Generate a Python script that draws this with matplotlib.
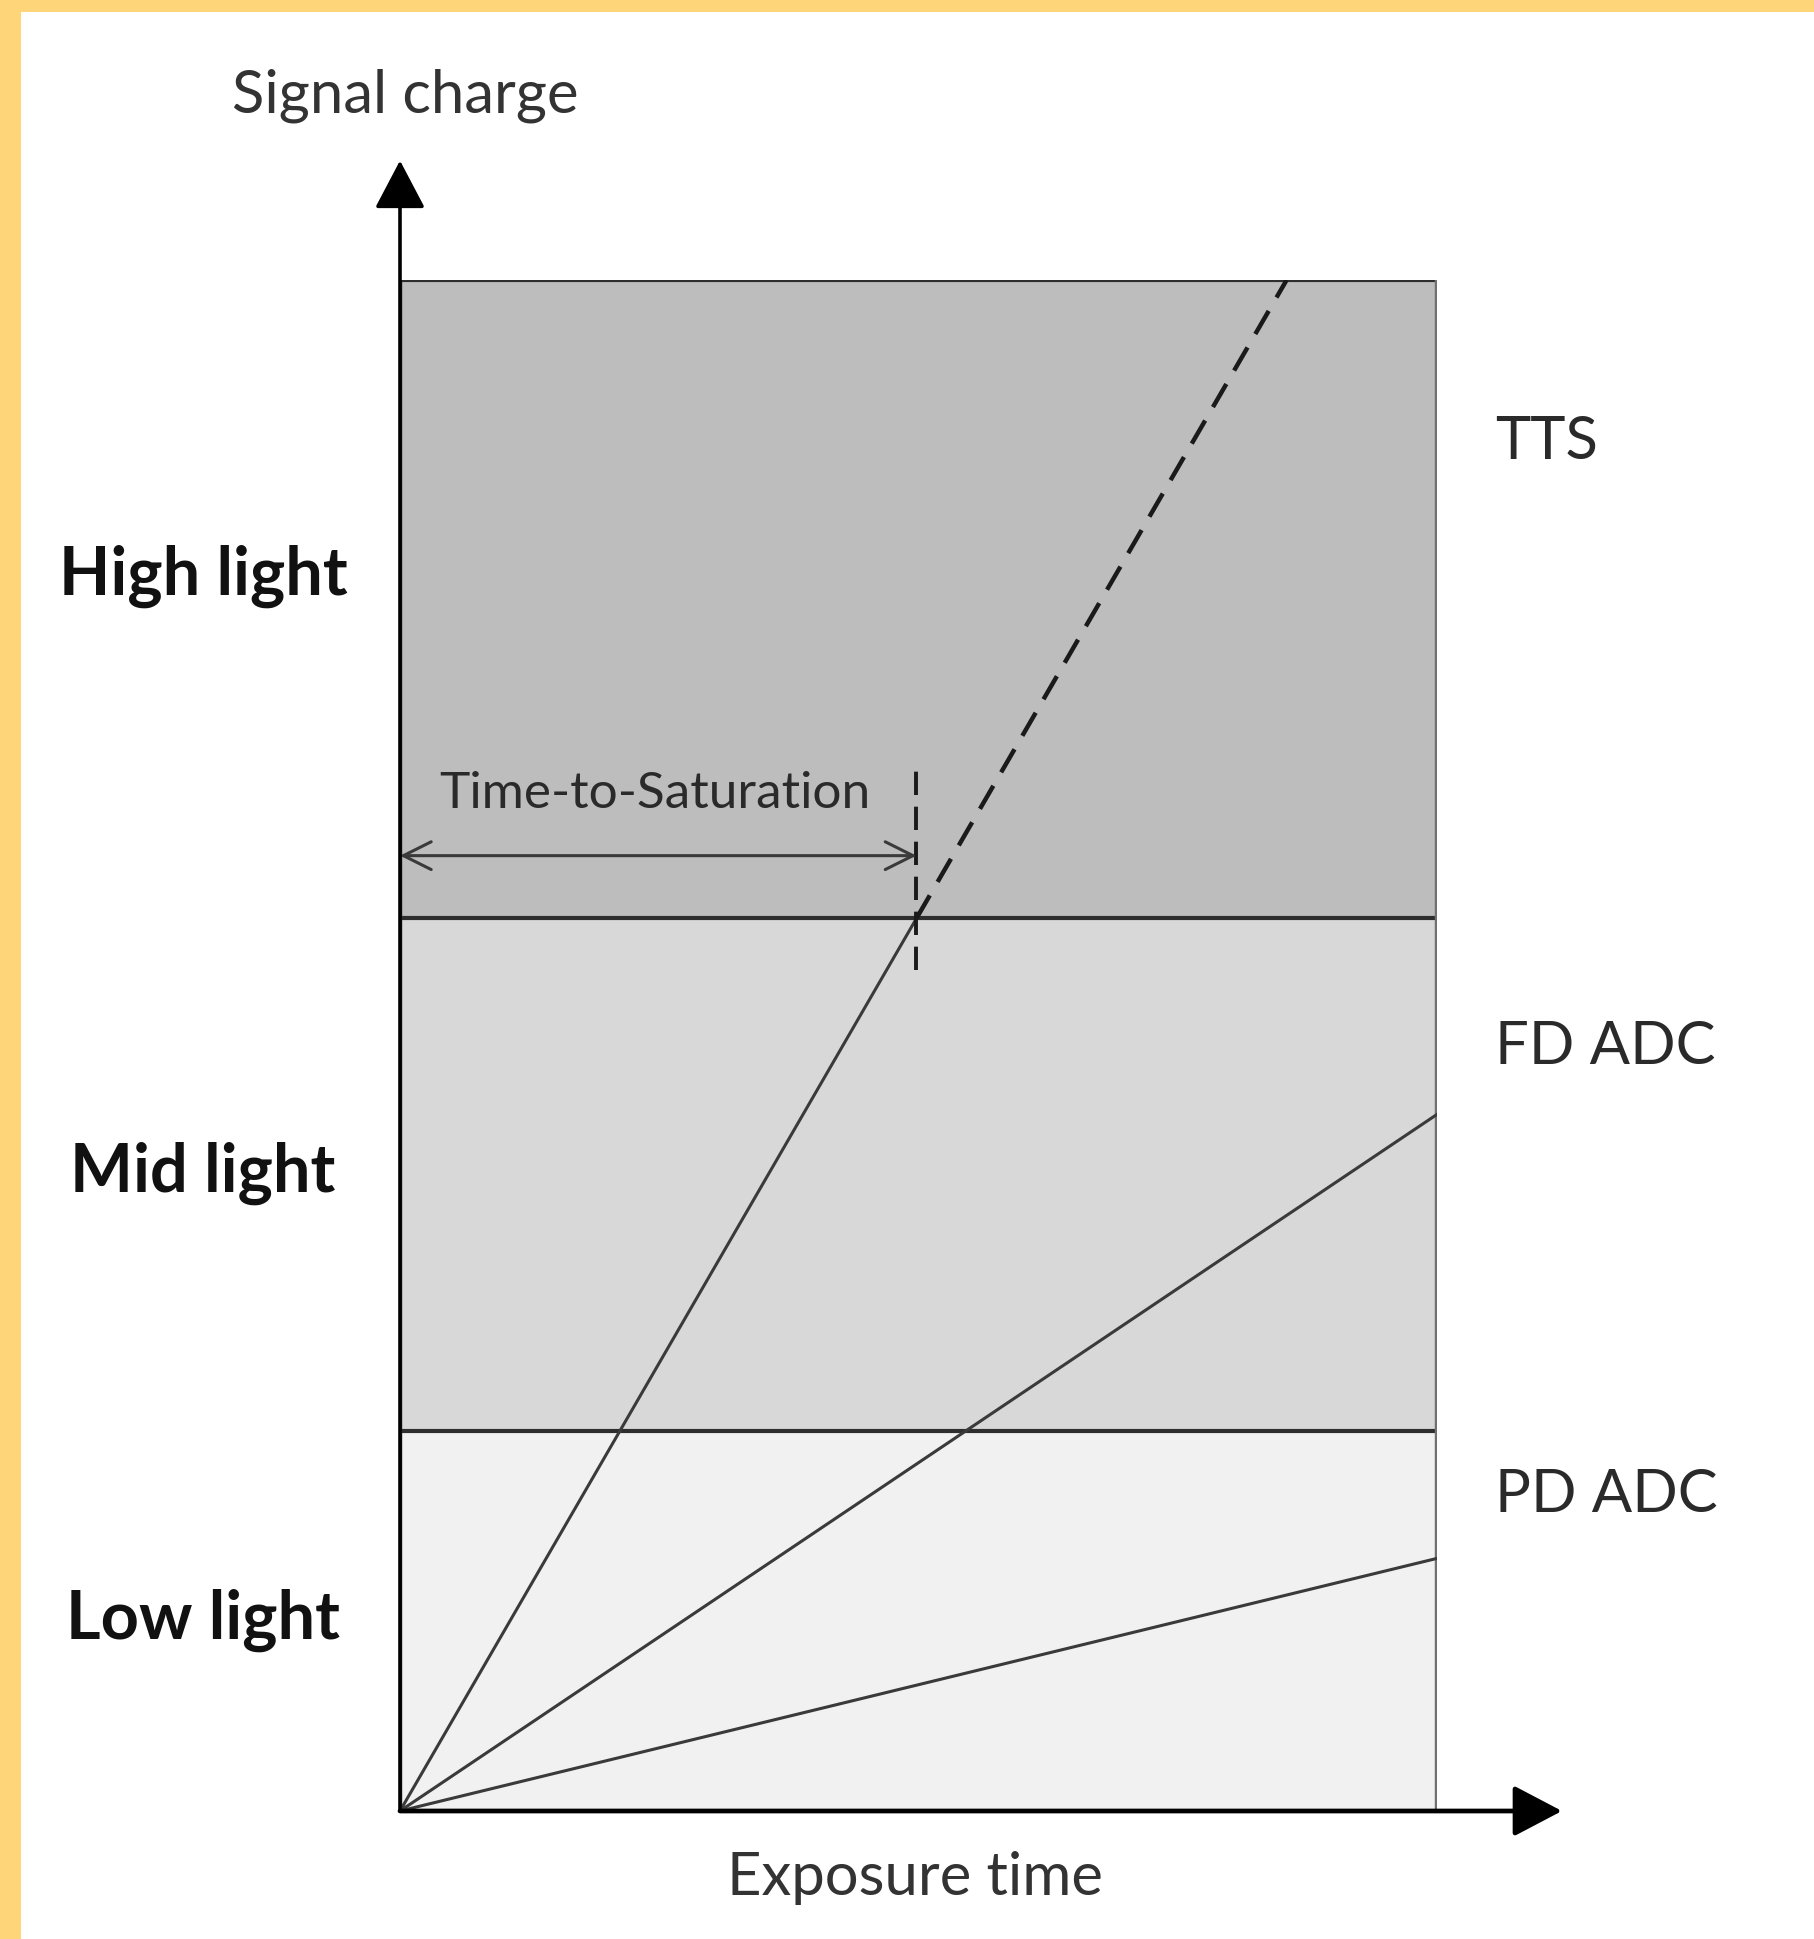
import matplotlib
matplotlib.use("Agg")
import matplotlib.pyplot as plt
from matplotlib.patches import Rectangle, FancyArrowPatch

# ---- data (normalised units: box = 0..1 in exposure time and signal charge) ----
region_names = ["PD ADC", "FD ADC", "TTS"]
region_bounds = [0.0, 0.248, 0.583, 1.0]
region_colors = ["#f1f1f1", "#d8d8d8", "#bdbdbd"]
light_labels = ["Low light", "Mid light", "High light"]
light_label_y = [0.125, 0.417, 0.807]
region_label_y = [0.207, 0.500, 0.895]
ray_end_signal = [0.165, 0.455]          # signal at exposure = 1 for low & mid light rays
sat_time = 0.498                          # time-to-saturation of high light ray
sat_level = 0.583
dashed_end = (0.855, 1.0)

W, H = 1814, 1940
fig = plt.figure(figsize=(W / 100, H / 100), dpi=100)
fig.patch.set_facecolor("white")

# yellow frame (left and top)
fig.patches.append(Rectangle((0, 0), 21 / W, 1, transform=fig.transFigure,
                             facecolor="#ffd579", edgecolor="none", zorder=0))
fig.patches.append(Rectangle((0, 1 - 13 / H), 1, 13 / H, transform=fig.transFigure,
                             facecolor="#ffd579", edgecolor="none", zorder=0))

ax = fig.add_axes([400 / W, 1 - 1812 / H, (1437 - 400) / W, (1812 - 281) / H])
ax.set_xlim(0, 1)
ax.set_ylim(0, 1)
ax.axis("off")

font = ["Lato", "DejaVu Sans"]

# regions
for lo, hi, c in zip(region_bounds[:-1], region_bounds[1:], region_colors):
    ax.add_patch(Rectangle((0, lo), 1, hi - lo, facecolor=c, edgecolor="none", zorder=1))
# outlines
for y in region_bounds[1:]:
    ax.plot([0, 1], [y, y], color="#2e2e2e", lw=3, zorder=3, solid_capstyle="butt")
ax.plot([1, 1], [0, 1], color="#707070", lw=3.2, zorder=3)
ax.plot([0, 0], [0, 1], color="#2e2e2e", lw=3.2, zorder=3)

# rays
ax.plot([0, sat_time], [0, sat_level], color="#3a3a3a", lw=2.2, zorder=4)
for s in ray_end_signal:
    ax.plot([0, 1], [0, s], color="#3a3a3a", lw=2.2, zorder=4)
ax.plot([sat_time, dashed_end[0]], [sat_level, dashed_end[1]], color="#1a1a1a",
        lw=3.2, ls=(0, (6, 3.5)), zorder=4)

# vertical dashed marker at saturation time
ax.plot([sat_time, sat_time], [0.549, 0.685], color="#1a1a1a", lw=2.8,
        ls=(0, (6, 3)), zorder=5)

# double-headed arrow (time-to-saturation)
ax.add_patch(FancyArrowPatch((0.0, 0.624), (sat_time, 0.624), arrowstyle="<->,head_length=20,head_width=10",
                             color="#3a3a3a", lw=2.2, zorder=5, shrinkA=0, shrinkB=0,
                             mutation_scale=1))
ax.text(0.246, 0.665, "Time-to-Saturation", ha="center", va="center", fontsize=37,
        color="#2a2a2a", family=font, zorder=6)

# axes arrows
ax.annotate("", xy=(0, 1.078), xytext=(0, 0), xycoords="data",
            arrowprops=dict(arrowstyle="-|>,head_length=1.37,head_width=0.72",
                            color="black", lw=2.6, shrinkA=0, shrinkB=0, mutation_scale=22),
            annotation_clip=False, zorder=7)
ax.annotate("", xy=(1.1205, 0), xytext=(0, 0), xycoords="data",
            arrowprops=dict(arrowstyle="-|>,head_length=1.37,head_width=0.72",
                            color="black", lw=3.4, shrinkA=0, shrinkB=0, mutation_scale=22),
            annotation_clip=False, zorder=7)

# axis titles
ax.text(0.005, 1.121, "Signal charge", ha="center", va="center", fontsize=43,
        color="#333333", family=font)
ax.text(0.497, -0.043, "Exposure time", ha="center", va="center", fontsize=43,
        color="#333333", family=font)

# light labels (left)
for lab, y in zip(light_labels, light_label_y):
    ax.text(-0.19, y, lab, ha="center", va="center", fontsize=48, fontweight="bold",
            color="#111111", family=font)

# region labels (right)
for lab, y in zip(region_names, region_label_y):
    ax.text(1.056, y, lab, ha="left", va="center", fontsize=43, color="#2a2a2a", family=font)

fig.savefig("out.png", dpi=100, facecolor="white")
